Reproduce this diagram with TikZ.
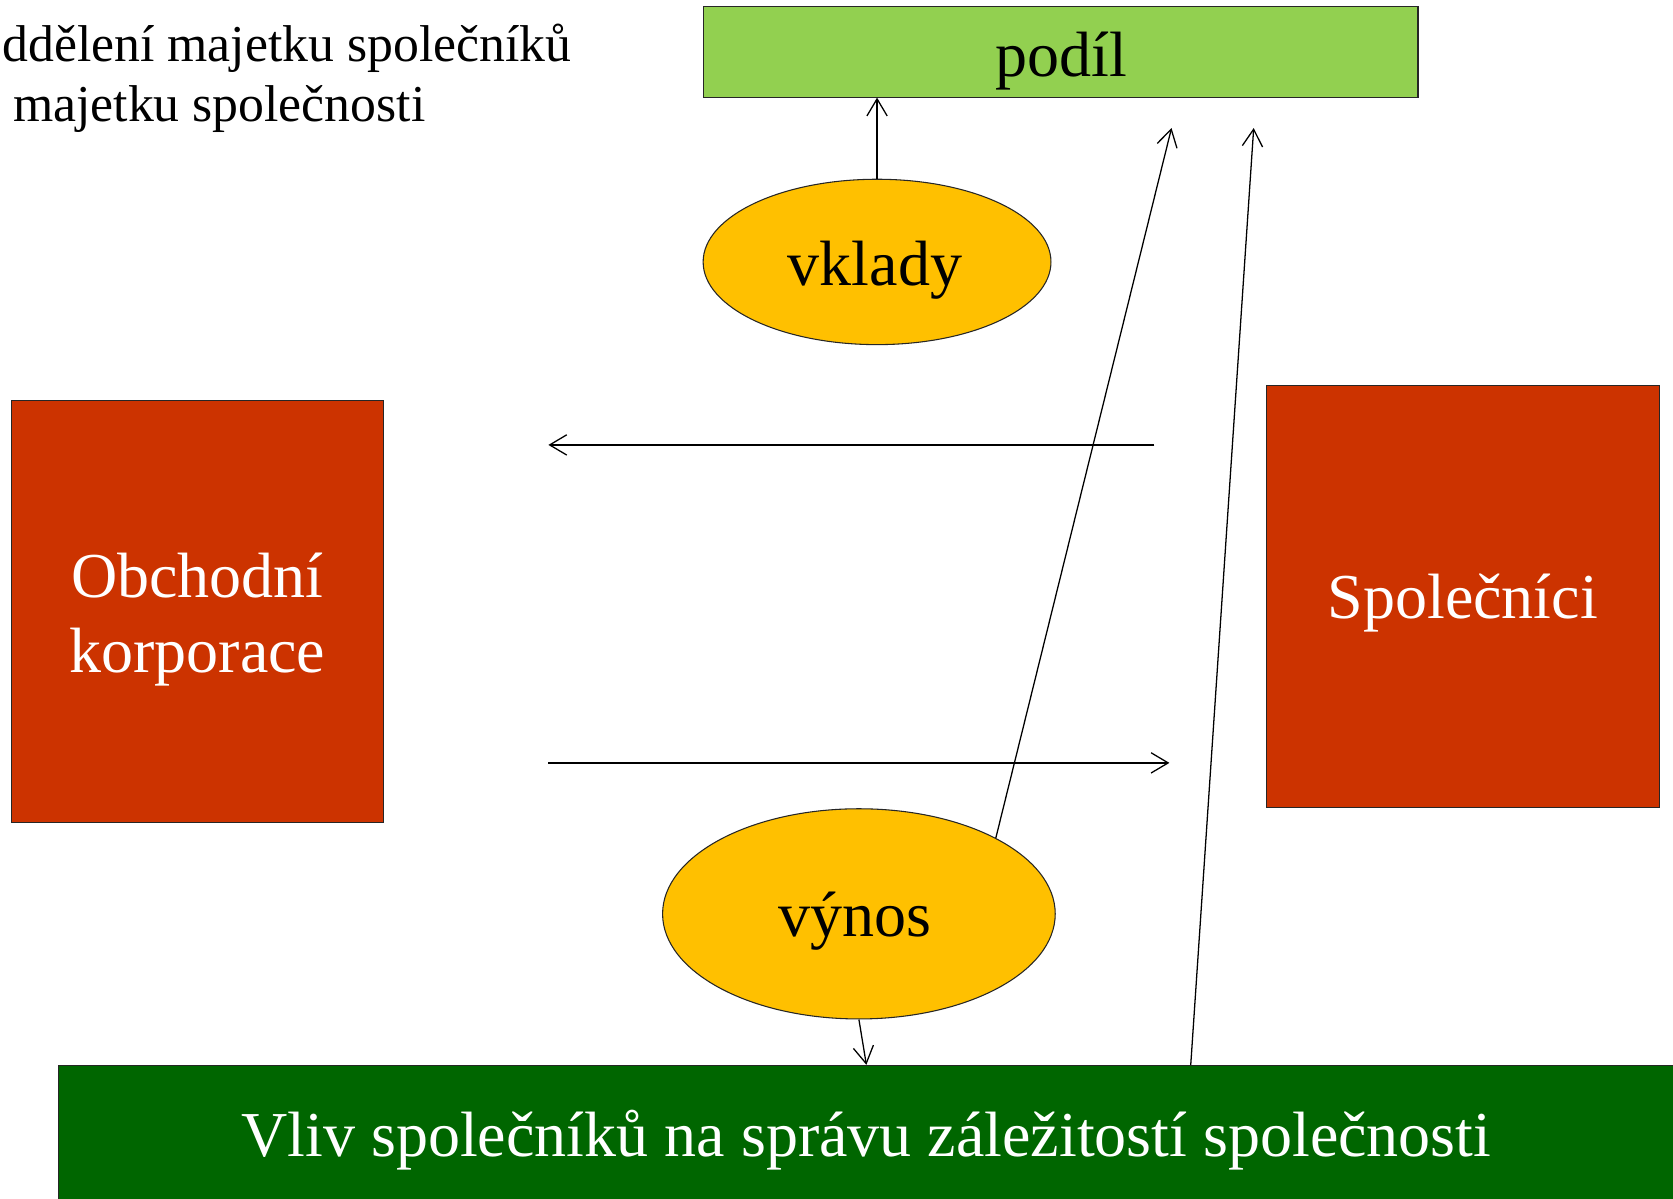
\documentclass[tikz,border=0pt]{standalone}
\usepackage{fontspec}
\setmainfont{Liberation Serif}
\usetikzlibrary{shapes.geometric,arrows.meta}
\definecolor{lightgreen}{HTML}{92D050}
\definecolor{gold}{HTML}{FFC000}
\definecolor{brick}{HTML}{CC3300}
\definecolor{darkgreen}{HTML}{006600}
\begin{document}
\begin{tikzpicture}[x=1pt,y=-1pt,
  box/.style={draw=black!85, line width=1pt, rectangle, inner sep=0pt},
  oval/.style={draw=black!85, line width=1pt, ellipse, inner sep=0pt, fill=gold},
  big/.style={font=\fontsize{60}{72}\selectfont, inner sep=0pt, anchor=base},
  titletext/.style={font=\fontsize{48.5}{56}\selectfont, inner sep=0pt},
  conn/.style={draw=black, line width=1.2pt, -{Straight Barb[length=16pt,width=19pt]}}]
\useasboundingbox (0,0) rectangle (1568,1123);
\clip (0,0) rectangle (1568,1123);
\fill[white] (0,0) rectangle (1568,1123);
% title
\node[titletext, anchor=base west] (t1) at (2,58) {ddělení majetku společníků};
\node[titletext, anchor=base west] (t2) at (12,114) {majetku společnosti};
% boxes
\node[box, fill=lightgreen, minimum width=670pt, minimum height=85pt] (podil) at (994,48.5) {};
\node[big] (podiltext) at (995,72) {podíl};
\node[oval, minimum width=326pt, minimum height=155pt] (vklady) at (822,245.5) {};
\node[big] (vkladytext) at (820,268) {vklady};
\node[box, fill=brick, minimum width=348pt, minimum height=396pt] (obch) at (185,573) {};
\node[big, text=white] (obchtext1) at (185,560) {Obchodní};
\node[big, text=white] (obchtext2) at (185,630) {korporace};
\node[box, fill=brick, minimum width=368pt, minimum height=396pt] (spol) at (1371,559) {};
\node[big, text=white] (spoltext) at (1371,580) {Společníci};
\node[oval, minimum width=368pt, minimum height=197pt] (vynos) at (805,856.5) {};
\node[big] (vynostext) at (801,878) {výnos};
\node[box, fill=darkgreen, minimum width=1560pt, minimum height=200pt, anchor=north west] (vliv) at (54,998) {};
\node[big, text=white] (vlivtext) at (812,1084) {Vliv společníků na správu záležitostí společnosti};
% free ends
\coordinate (a1s) at (1082,417);
\coordinate (a1e) at (514,417);
\coordinate (a2s) at (514,715);
\coordinate (a2e) at (1096,715);
\coordinate (up1) at (1098,120);
\coordinate (up2) at (1175,120);
\coordinate (vlivtop1) at (1116,998);
\coordinate (vlivtop2) at (812,998);
% connectors
\draw[conn] (vklady.north) -- (vklady.north |- podil.south);
\draw[conn] (a1s) -- (a1e);
\draw[conn] (a2s) -- (a2e);
\draw[conn] (vynos.29) -- (up1);
\draw[conn] (vlivtop1) -- (up2);
\draw[conn] (vynos.south) -- (vlivtop2);
\end{tikzpicture}
\end{document}
